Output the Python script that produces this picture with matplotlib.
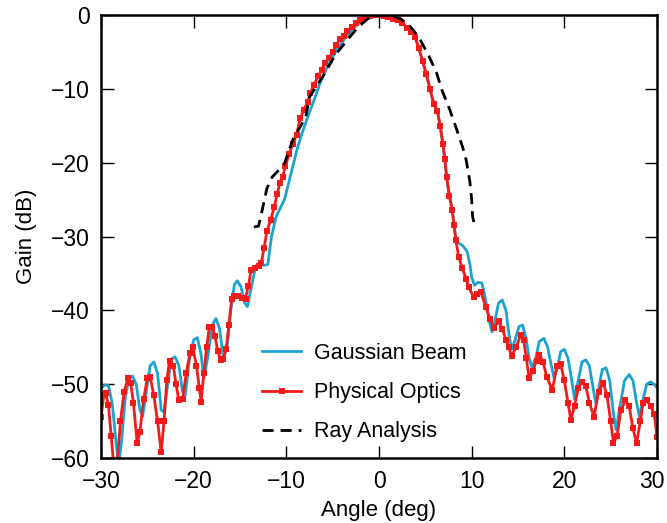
import matplotlib
matplotlib.use("Agg")
import matplotlib.pyplot as plt
import matplotlib.transforms as mtransforms

plt.rcParams['font.family'] = ['Liberation Sans', 'DejaVu Sans']

# Gaussian Beam
gb_x = [-30, -29.6, -29.2, -28.8, -28.4, -28.1, -27.8, -27.4, -27.0, -26.6, -26.2, -25.8, -25.5, -25.1,
        -24.7, -24.3, -23.9, -23.5, -23.2, -22.8, -22.4, -22.0, -21.6, -21.2, -20.9, -20.5, -20.0, -19.6,
        -19.2, -18.9, -18.5, -18.0, -17.6, -17.2, -16.8, -16.4, -16.0, -15.6, -15.3, -14.9, -14.5, -14.2,
        -13.8, -13.3, -12.9, -12.4, -12.0, -11.6, -11.1, -10.6, -10.2, -9.7, -9.3, -8.8, -8.3, -7.6, -7.0,
        -6.3, -5.5, -4.7, -3.8, -2.9, -2.0, -1.2, -0.5, 0.3, 1.2, 2.0, 2.5, 3.0, 3.5, 3.9, 4.3, 4.7, 5.1,
        5.5, 5.9, 6.3, 6.6, 6.9, 7.1, 7.3, 7.6, 7.9, 8.1, 8.3, 8.6, 9.0, 9.5, 9.8, 10.0, 10.3, 10.7, 11.1,
        11.5, 11.9, 12.2, 12.5, 12.9,
        13.3, 13.7, 14.0, 14.3, 14.7, 15.1, 15.5, 15.9, 16.2, 16.5, 16.9, 17.3, 17.8, 18.2, 18.6, 18.9,
        19.3, 19.6, 20.0, 20.4, 20.8, 21.1, 21.5, 21.9, 22.3, 22.7, 23.1, 23.4, 23.8, 24.1, 24.5, 24.9,
        25.3, 25.6, 26.0, 26.5, 27.0, 27.4, 27.8, 28.1, 28.5, 28.9, 29.3, 29.7, 30.0]
gb_y = [-50.6, -50.1, -50.2, -52.5, -57.5, -61.0, -58.0, -52.0, -49.3, -48.9, -50.0, -53.5, -54.3, -51.0,
        -47.5, -47.0, -48.5, -53.5, -53.8, -50.0, -46.6, -46.3, -47.5, -51.0, -51.5, -47.0, -44.0, -43.7,
        -46.0, -49.2, -46.5, -42.0, -41.1, -42.5, -46.5, -45.0, -40.0, -36.5, -36.0, -36.8, -39.0, -39.5,
        -37.0, -34.0, -33.5, -33.9, -33.8, -30.0, -27.3, -26.0, -25.0, -22.5, -20.5, -18.0, -16.0, -13.5,
        -11.5, -9.0, -6.8, -5.0, -3.4, -2.0, -0.9, -0.3, 0.0, -0.1, -0.3, -0.7, -1.1, -1.7, -2.3, -3.0,
        -4.5, -6.2, -8.0, -10.0, -12.0, -13.0, -15.0, -17.5, -19.5, -22.0, -24.5, -26.4, -28.5, -30.5,
        -30.9, -31.2, -32.0, -33.7, -35.5, -36.6, -36.2, -36.3, -38.5, -41.5, -42.9, -41.5, -39.0,
        -38.6, -40.0, -43.0, -45.3, -44.0, -42.2, -42.0,
        -44.0, -46.5, -47.7, -46.5, -44.2, -43.8, -45.0, -47.5, -49.2, -47.5, -45.6, -45.3, -46.5, -49.5,
        -52.0, -49.5, -47.0, -46.7, -47.5, -50.5, -52.6, -50.0, -48.0, -47.8, -49.5, -54.0, -56.2, -53.0,
        -49.5, -48.7, -49.5, -52.5, -54.4, -52.0, -50.0, -49.7, -50.0, -50.5]

# Physical Optics
po_x = [-30, -29.7, -29.5, -29.2, -28.9, -28.6, -28.3, -27.9, -27.5, -27.1, -26.8, -26.5, -26.1, -25.8,
        -25.4, -25.0, -24.7, -24.3, -23.9, -23.5, -23.2, -22.9, -22.6, -22.2, -21.9, -21.6, -21.2, -20.8,
        -20.4, -20.1, -19.7, -19.4, -19.2, -18.9, -18.6, -18.3, -18.0, -17.7, -17.4, -17.1, -16.8, -16.5,
        -16.2, -15.9, -15.6, -15.2, -14.8, -14.4, -14.1, -13.8, -13.4, -13.0, -12.7, -12.4, -12.1, -11.7,
        -11.3, -11.0, -10.7, -10.4, -10.1, -9.7, -9.3, -8.9, -8.5, -8.1, -7.7, -7.4, -7.0, -6.6, -6.2,
        -5.8, -5.4, -5.0, -4.6, -4.2, -3.8, -3.4, -2.9, -2.5, -2.0, -1.5, -1.0, -0.5, 0.0, 0.5, 1.0, 1.5,
        2.0, 2.5, 3.0, 3.5, 3.9, 4.3, 4.7, 5.1, 5.5, 5.9, 6.3, 6.6, 6.9, 7.1, 7.3, 7.6, 7.9, 8.1, 8.3,
        8.6, 9.0, 9.4, 9.7, 10.2, 10.6, 11.0, 11.5, 12.0, 12.4, 12.9, 13.3, 13.7, 14.0, 14.3, 14.8, 15.3,
        15.6, 15.9, 16.2, 16.6, 17.0, 17.3, 17.7, 18.1, 18.7, 19.2, 19.6, 20.0, 20.4, 20.7, 21.1, 21.5,
        21.9, 22.3, 22.7, 23.2, 23.7, 24.2, 24.6, 25.0, 25.3, 25.7, 26.1, 26.6, 27.0, 27.4, 27.8, 28.2,
        28.5, 28.9, 29.3, 29.7, 30.0]
po_y = [-54.5, -51.5, -51.2, -52.8, -57.0, -61.5, -61.5, -55.0, -51.0, -49.2, -49.8, -52.5, -58.0, -56.5,
        -52.0, -49.2, -49.0, -51.5, -55.0, -59.2, -55.0, -49.5, -46.8, -47.5, -50.0, -52.2, -52.0, -48.5,
        -45.8, -45.0, -47.5, -50.5, -52.4, -48.5, -45.0, -42.2, -42.2, -43.5, -45.5, -46.7, -46.6, -45.3,
        -42.0, -38.5, -38.0, -38.1, -38.3, -38.4, -36.7, -34.6, -34.2, -34.0, -33.6, -31.5, -29.3, -27.8,
        -26.0, -24.3, -22.8, -21.9, -20.5, -18.8, -17.5, -16.2, -14.0, -12.8, -11.8, -10.5, -9.5, -8.3,
        -7.5, -6.5, -5.8, -5.0, -4.0, -3.3, -2.8, -2.2, -1.6, -1.1, -0.7, -0.3, -0.1, 0.0, -0.05, -0.2,
        -0.3, -0.5, -0.7, -1.1, -1.7, -2.3, -3.0, -4.5, -6.2, -8.0, -10.0, -12.0, -13.0, -15.0, -17.5,
        -19.5, -22.0, -24.5, -26.4, -28.5, -30.5, -32.8, -34.3, -35.8, -36.9, -38.2, -37.8, -37.5, -39.5,
        -41.2, -42.4, -41.5, -42.5, -44.0, -45.0, -46.2, -45.0, -43.3, -44.0, -46.5, -49.2, -48.2, -46.8,
        -46.0, -47.0, -49.0, -50.8, -47.5, -47.3, -49.5, -52.5, -54.8, -53.0, -50.5, -49.7, -50.2, -52.5,
        -54.4, -51.0, -49.8, -51.5, -55.0, -58.0, -57.0, -53.5, -52.2, -53.0, -56.0, -58.0, -55.0, -52.5,
        -52.2, -53.0, -54.0, -57.2]

# Ray Analysis
ra_x = [-13.5, -13.0, -12.6, -12.1, -11.5, -10.8, -10.2, -9.3, -7.9, -7.5, -6.1, -4.7, -3.5, -2.3, -1.2,
        0.0, 1.3, 2.3, 3.2, 4.3, 5.4, 6.2, 6.8, 7.6, 8.3, 9.0, 9.4, 9.8, 10.0, 10.1, 10.4]
ra_y = [-28.7, -28.6, -26.4, -23.5, -21.9, -21.0, -20.1, -16.9, -13.8, -11.1, -8.4, -5.4, -3.5, -1.7, -0.5,
        0.0, -0.1, -0.5, -1.3, -3.0, -5.6, -7.8, -10.2, -12.7, -15.2, -17.8, -19.6, -22.5, -25.0, -27.3, -28.9]

x_ticks = [-30, -20, -10, 0, 10, 20, 30]
y_ticks = [-60, -50, -40, -30, -20, -10, 0]

fig = plt.figure(figsize=(6.67, 5.23), dpi=100)
ax = fig.add_axes([101/667, 1-458/523, 556/667, 443/523])

ax.plot(gb_x, gb_y, color='#1ba3d0', lw=2.0, label='Gaussian Beam')
ax.plot(po_x, po_y, color='#f51a1a', lw=2.0, marker='s', ms=3.8, mew=0, label='Physical Optics')
ax.plot(ra_x, ra_y, color='black', lw=2.0, ls=(0, (4, 2.5)), label='Ray Analysis')

ax.set_xlim(-30, 30)
ax.set_ylim(-60, 0)
ax.set_xticks(x_ticks)
ax.set_yticks(y_ticks)
ax.set_xticklabels([f"\u2212{abs(v)}" if v < 0 else str(v) for v in x_ticks])
ax.set_yticklabels([f"\u2212{abs(v)}" if v < 0 else str(v) for v in y_ticks])
ax.tick_params(direction='in', length=9, width=1.0, top=True, right=True, labelsize=16.5)
ax.tick_params(axis='x', pad=9)
ax.tick_params(axis='y', pad=8)
for s in ax.spines.values():
    s.set_linewidth(1.8)

# nudge the last x tick label so it stays inside the figure
last = ax.get_xticklabels()[-1]
last.set_transform(last.get_transform() + mtransforms.ScaledTranslation(-5/100, 0, fig.dpi_scale_trans))

ax.set_xlabel('Angle (deg)', fontsize=16, labelpad=5)
ax.set_ylabel('Gain (dB)', fontsize=16, labelpad=10)

leg = ax.legend(loc='lower left', bbox_to_anchor=(0.29, 0.035), frameon=False, fontsize=15.5,
                handlelength=1.8, handletextpad=0.6, labelspacing=0.85, borderaxespad=0, borderpad=0)

fig.savefig('out.png', dpi=100)
